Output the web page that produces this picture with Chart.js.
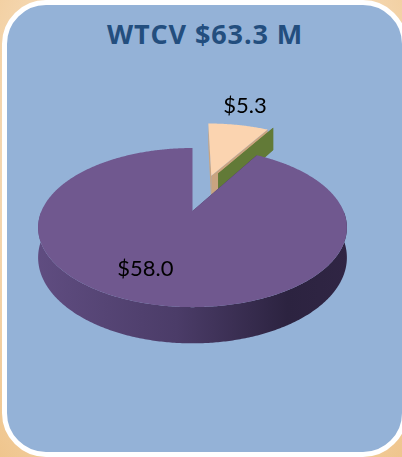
<!DOCTYPE html>
<html>
<head>
<meta charset="utf-8">
<title>WTCV</title>
<script src="https://cdn.jsdelivr.net/npm/chart.js@4.4.1/dist/chart.umd.min.js"></script>
<style>
  html, body { margin: 0; padding: 0; }
  body {
    width: 402px; height: 457px; overflow: hidden; position: relative;
    background: radial-gradient(ellipse at 50% 35%, #fcf1e4 0%, #f7dfc0 55%, #efc58d 100%);
  }
  .panel {
    position: absolute; left: 2px; top: 0; width: 405px; height: 457px;
    box-sizing: border-box; border: 5px solid #fff; border-radius: 44px;
    background: #94b2d7;
  }
  .title {
    position: absolute; left: 0; top: 19px; width: 410px; text-align: center;
    font: bold 27px/30px "Open Sans", sans-serif; letter-spacing: 0.9px; color: #234e7e;
  }
  #chart { position: absolute; left: 0; top: 0; }
</style>
</head>
<body>
<div class="panel"></div>
<div class="title" id="title"></div>
<canvas id="chart" width="402" height="457"></canvas>
<script>
// Valores del gráfico (millones de dólares)
const categories = ['Segmento 1', 'Segmento 2', 'Segmento 3'];
const values = [5.3, 0, 58.0];
const titlePrefix = 'WTCV';
const unit = 'M';

const total = values.reduce((a, b) => a + b, 0);
document.getElementById('title').textContent = `${titlePrefix} $${total.toFixed(1)} ${unit}`;

// Plugin que dibuja la tarta en 3D (tapa, paredes y perspectiva) a partir de los arcos de Chart.js
const pie3d = {
    id: 'pie3d',
    geometry(chart, opts) {
        const arcs = chart.getDatasetMeta(0).data;
        const R = arcs[0].outerRadius;
        const cx = arcs[0].x, cy = arcs[0].y;
        const f = opts.focal * R;
        const proj = (u, v, z) => {
            const s = f / (f + v);
            return [cx + u * s, cy - v * opts.tilt * s + z * s];
        };
        const pieces = arcs.map((arc, i) => {
            const a0 = arc.startAngle, a1 = arc.endAngle, mid = (a0 + a1) / 2;
            const e = (opts.explode[i] || 0) * R;
            // dirección de separación: bisectriz del sector salvo que se indique otra (grados desde arriba)
            const dir = opts.explodeAngle[i] == null ? mid : (opts.explodeAngle[i] - 90) * Math.PI / 180;
            const ou = e * Math.cos(dir), ov = -e * Math.sin(dir);
            // profundidad aproximada del centro del sector, para ordenar el dibujo
            const depthKey = ov - (2 * R / 3) * Math.sin(mid);
            return { arc, i, a0, a1, mid, ou, ov, depthKey };
        });
        return { R, cx, cy, proj, pieces };
    },
    beforeDatasetsDraw(chart, args, opts) {
        const ctx = chart.ctx;
        const { R, cx, proj, pieces } = this.geometry(chart, opts);
        const h = opts.depth * R;

        const rim = (p, a, z) => proj(p.ou + R * Math.cos(a), p.ov - R * Math.sin(a), z);
        const hub = (p, z) => proj(p.ou, p.ov, z);
        const arcPts = (p, from, to, z) => {
            const n = Math.max(2, Math.ceil(Math.abs(to - from) / 0.01));
            const pts = [];
            for (let k = 0; k <= n; k++) pts.push(rim(p, from + (to - from) * k / n, z));
            return pts;
        };
        const fillPath = (pts, style) => {
            ctx.beginPath();
            pts.forEach(([x, y], k) => (k ? ctx.lineTo(x, y) : ctx.moveTo(x, y)));
            ctx.closePath();
            ctx.fillStyle = style;
            ctx.fill();
        };
        const wallStyle = i => {
            const w = opts.walls[i];
            if (typeof w === 'string') return w;
            const g = ctx.createLinearGradient(cx - R * 1.05, 0, cx + R * 1.05, 0);
            w.forEach(([stop, color]) => g.addColorStop(stop, color));
            return g;
        };

        ctx.save();
        // de atrás hacia delante
        [...pieces].sort((p, q) => q.depthKey - p.depthKey).forEach(p => {
            const wall = wallStyle(p.i);
            // paredes radiales
            [p.a0, p.a1].forEach(a => {
                fillPath([hub(p, 0), rim(p, a, 0), rim(p, a, h), hub(p, h)], wall);
            });
            // pared exterior, solo la mitad visible
            const lo = Math.max(p.a0, 0), hi = Math.min(p.a1, Math.PI);
            if (hi > lo) {
                fillPath([...arcPts(p, lo, hi, 0), ...arcPts(p, hi, lo, h)], wall);
            }
            // tapa
            if (p.a1 - p.a0 > 1e-4) {
                fillPath([hub(p, 0), ...arcPts(p, p.a0, p.a1, 0)], p.arc.options.backgroundColor);
            }
        });
        ctx.restore();
        return false;
    },
    afterDraw(chart, args, opts) {
        const ctx = chart.ctx;
        const { R, proj, pieces } = this.geometry(chart, opts);
        ctx.save();
        ctx.font = opts.labelFont;
        ctx.fillStyle = opts.labelColor;
        ctx.textAlign = 'center';
        ctx.textBaseline = 'middle';
        pieces.forEach(p => {
            const v = values[p.i];
            if (!v) return;
            const r = opts.labelRadius[p.i] * R;
            const [x, y] = proj(p.ou + r * Math.cos(p.mid), p.ov - r * Math.sin(p.mid), 0);
            const [dx, dy] = opts.labelNudge[p.i];
            ctx.fillText('$' + v.toFixed(1), x + dx, y + dy);
        });
        ctx.restore();
    }
};

new Chart(document.getElementById('chart'), {
    type: 'pie',
    data: {
        labels: categories,
        datasets: [{
            data: values,
            backgroundColor: ['#fbd4b0', '#6f8c3e', '#70588f'],
            borderWidth: 0,
            hoverBorderWidth: 0,
            hoverOffset: 0
        }]
    },
    options: {
        responsive: false,
        animation: false,
        events: [],
        layout: { padding: { left: 41, right: 58, top: 60, bottom: 95 } },
        plugins: {
            legend: { display: false },
            tooltip: { enabled: false },
            pie3d: {
                tilt: 0.504,
                focal: 4.8,
                depth: 0.19,
                explode: [0.53, 0.582, 0],
                explodeAngle: [null, 19.0, null],
                walls: [
                    '#c9a480',
                    '#627a37',
                    [[0, '#604d81'], [0.45, '#4b3c68'], [0.8, '#2c2340'], [1, '#302544']]
                ],
                labelRadius: [1.55, 0, 0.72],
                labelNudge: [[-5, 3], [0, 0], [-14, -4]],
                labelFont: '22px Lato, sans-serif',
                labelColor: '#000'
            }
        }
    },
    plugins: [pie3d]
});
</script>
</body>
</html>
